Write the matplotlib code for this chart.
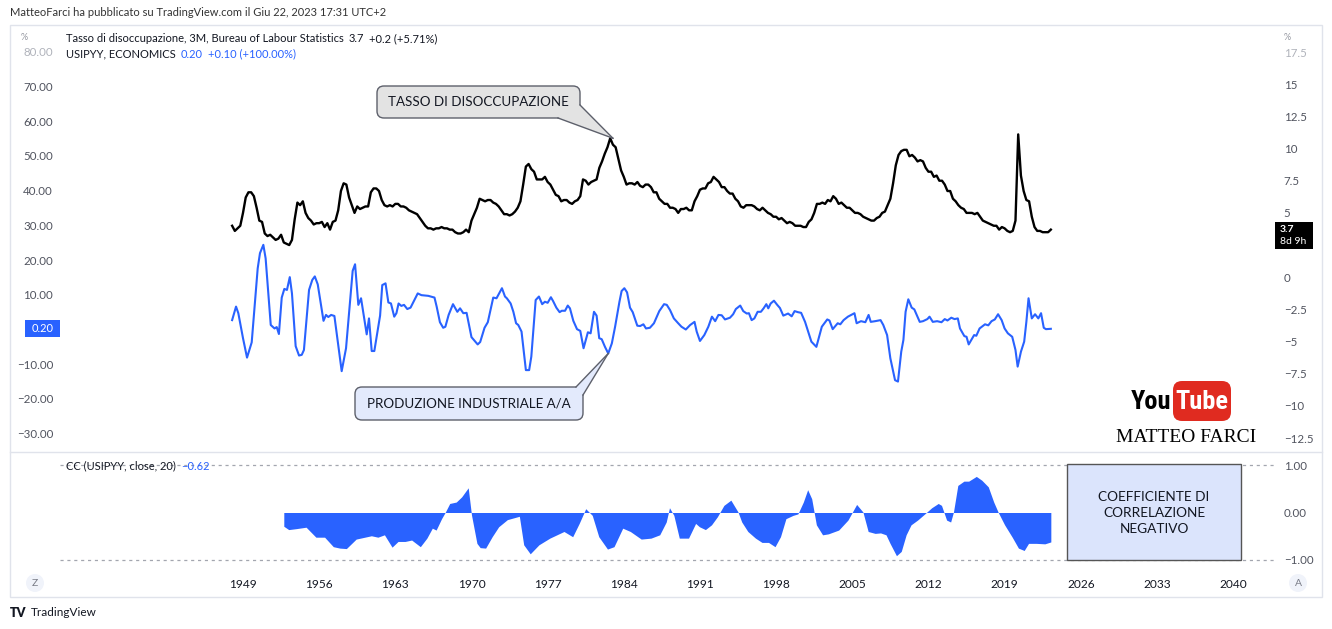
import numpy as np
import matplotlib
matplotlib.use('Agg')
import matplotlib.pyplot as plt
from matplotlib.patches import FancyBboxPatch, Polygon, Rectangle, Circle
from matplotlib.lines import Line2D
from matplotlib.transforms import IdentityTransform

plt.rcParams['font.family'] = ['Lato', 'DejaVu Sans']

W, H = 1332, 629

# --- dati -------------------------------------------------------------------
# tasso di disoccupazione USA, chiusure trimestrali (3M) dal 1948 Q1
unrate_start = 1948.0
unrate = [
    4.0, 3.6, 3.8, 4.0, 5.0, 6.2, 6.6, 6.6, 6.3, 5.4, 4.4, 4.3,
    3.4, 3.2, 3.3, 3.1, 2.9, 3.0, 3.3, 2.7, 2.6, 2.5, 2.9, 4.5,
    5.8, 5.6, 5.9, 5.0, 4.6, 4.4, 4.1, 4.2, 4.2, 4.3, 3.9, 4.2,
    3.7, 4.3, 4.4, 5.2, 6.7, 7.3, 7.2, 6.2, 5.6, 5.0, 5.5, 5.3,
    5.4, 5.5, 5.5, 6.6, 6.9, 6.9, 6.7, 6.0, 5.6, 5.5, 5.6, 5.5,
    5.7, 5.7, 5.5, 5.5, 5.4, 5.2, 5.1, 5.0, 4.9, 4.6, 4.3, 4.0,
    3.8, 3.8, 3.7, 3.8, 3.8, 3.9, 3.8, 3.8, 3.7, 3.7, 3.5, 3.4,
    3.4, 3.5, 3.7, 3.5, 4.4, 4.9, 5.4, 6.1, 6.0, 5.9, 6.0, 6.0,
    5.8, 5.7, 5.5, 5.2, 4.9, 4.9, 4.8, 4.9, 5.1, 5.4, 5.9, 7.2,
    8.6, 8.8, 8.4, 8.2, 7.6, 7.6, 7.6, 7.8, 7.4, 7.2, 6.8, 6.4,
    6.3, 5.9, 6.0, 6.0, 5.8, 5.7, 5.9, 6.0, 6.3, 7.6, 7.5, 7.2,
    7.4, 7.5, 7.6, 8.5, 9.0, 9.6, 10.1, 10.8, 10.3, 10.1, 9.2, 8.3,
    7.8, 7.2, 7.3, 7.3, 7.2, 7.4, 7.1, 7.0, 7.2, 7.2, 7.0, 6.6,
    6.6, 6.1, 5.9, 5.7, 5.7, 5.4, 5.4, 5.3, 5.0, 5.3, 5.3, 5.4,
    5.2, 5.2, 5.9, 6.3, 6.8, 6.9, 6.9, 7.3, 7.4, 7.8, 7.6, 7.4,
    7.0, 7.0, 6.7, 6.5, 6.5, 6.1, 5.9, 5.5, 5.4, 5.6, 5.6, 5.6,
    5.5, 5.3, 5.2, 5.4, 5.2, 5.0, 4.9, 4.7, 4.7, 4.5, 4.6, 4.4,
    4.2, 4.3, 4.2, 4.0, 4.0, 4.0, 3.9, 3.9, 4.3, 4.5, 5.0, 5.7,
    5.7, 5.8, 5.7, 6.0, 5.9, 6.3, 6.1, 5.7, 5.8, 5.6, 5.4, 5.4,
    5.2, 5.0, 5.0, 4.9, 4.7, 4.6, 4.5, 4.4, 4.4, 4.6, 4.7, 5.0,
    5.1, 5.6, 6.1, 7.3, 8.7, 9.5, 9.8, 9.9, 9.9, 9.4, 9.5, 9.3,
    9.0, 9.1, 9.0, 8.5, 8.2, 8.2, 7.8, 7.9, 7.5, 7.5, 7.2, 6.7,
    6.7, 6.1, 5.9, 5.6, 5.4, 5.3, 5.0, 5.0, 5.0, 4.9, 5.0, 4.7,
    4.4, 4.3, 4.2, 4.1, 4.0, 4.0, 3.7, 3.9, 3.8, 3.6, 3.5, 3.6,
    4.4, 11.1, 7.9, 6.7, 6.0, 5.9, 4.7, 3.9, 3.6, 3.6, 3.5, 3.5,
    3.5, 3.7,
]

# produzione industriale a/a (USIPYY)
ip_years = [
    1948.0, 1948.36, 1948.57, 1949.0, 1949.37, 1949.8, 1950.35, 1950.56, 1950.87, 1951.08,
    1951.55, 1951.9, 1952.1, 1952.3, 1952.56, 1952.8, 1953.04, 1953.3, 1953.5, 1953.84,
    1954.15, 1954.4, 1954.6, 1955.07, 1955.37, 1955.6, 1955.87, 1956.4, 1956.63, 1956.84,
    1957.1, 1957.4, 1958.07, 1958.47, 1959.08, 1959.3, 1959.6, 1959.85, 1960.37, 1960.58,
    1960.83, 1961.07, 1961.6, 1961.8, 1962.1, 1962.36, 1962.6, 1962.9, 1963.1, 1963.3,
    1963.55, 1963.8, 1964.1, 1964.4, 1965.06, 1965.4, 1966.03, 1966.6, 1966.8, 1967.1,
    1967.4, 1967.6, 1967.9, 1968.3, 1968.7, 1968.95, 1969.25, 1969.55, 1970.0, 1970.57,
    1970.8, 1971.2, 1971.5, 1972.0, 1972.3, 1972.8, 1973.08, 1973.25, 1973.6, 1973.85,
    1974.1, 1974.3, 1974.6, 1975.0, 1975.3, 1975.5, 1975.9, 1976.2, 1976.5, 1976.75,
    1977.0, 1977.3, 1977.5, 1977.8, 1978.1, 1978.3, 1978.6, 1978.85, 1979.05, 1979.36,
    1979.7, 1980.0, 1980.3, 1980.7, 1980.95, 1981.26, 1981.5, 1981.74, 1981.97, 1982.27,
    1982.57, 1982.9, 1983.2, 1983.6, 1983.8, 1984.05, 1984.3, 1984.57, 1984.82, 1985.24,
    1985.5, 1985.8, 1986.04, 1986.4, 1986.77, 1987.26, 1987.7, 1987.95, 1988.25, 1988.6,
    1989.0, 1989.3, 1989.7, 1990.1, 1990.5, 1990.7, 1991.0, 1991.4, 1991.77, 1992.1,
    1992.4, 1992.7, 1993.0, 1993.3, 1993.76, 1994.05, 1994.3, 1994.7, 1994.98, 1995.3,
    1995.5, 1995.75, 1996.0, 1996.3, 1996.6, 1996.85, 1997.1, 1997.28, 1997.5, 1997.8,
    1998.1, 1998.35, 1998.66, 1999.1, 1999.43, 1999.7, 2000.0, 2000.3, 2000.66, 2000.8,
    2001.24, 2001.7, 2002.2, 2002.7, 2002.9, 2003.2, 2003.66, 2003.9, 2004.2, 2004.6,
    2005.2, 2005.4, 2005.8, 2006.2, 2006.5, 2006.7, 2007.1, 2007.6, 2007.85, 2008.2,
    2008.5, 2008.93, 2009.2, 2009.5, 2009.7, 2009.9, 2010.15, 2010.46, 2010.7, 2011.2,
    2011.5, 2011.9, 2012.1, 2012.4, 2012.8, 2013.2, 2013.5, 2013.75, 2014.1, 2014.4,
    2014.7, 2014.9, 2015.3, 2015.5, 2015.7, 2016.2, 2016.4, 2016.7, 2017.2, 2017.5,
    2017.8, 2018.1, 2018.4, 2018.73, 2019.0, 2019.3, 2019.7, 2020.0, 2020.2, 2020.5,
    2020.8, 2021.0, 2021.2, 2021.5, 2021.8, 2022.1, 2022.35, 2022.6, 2022.8, 2023.25,
]
ip_yoy = [
    2.7, 6.6, 4.7, -2.5, -8.1, -3.7, 17.6, 22.0, 24.4, 20.5,
    1.3, 0.3, 0.7, -1.3, 9.2, 11.7, 11.4, 15.1, 10.4, -4.8,
    -7.5, -7.3, -5.9, 11.4, 14.3, 15.3, 13.0, 2.5, 4.2, 3.6,
    4.2, 3.9, -12.0, -5.4, 16.9, 18.8, 7.1, 9.0, -1.4, 3.2,
    -6.2, -6.2, 4.0, 12.8, 13.3, 7.8, 7.5, 3.7, 4.7, 7.5,
    6.8, 7.1, 5.9, 6.3, 10.4, 9.9, 9.7, 9.2, 6.6, 2.1,
    0.5, 0.8, 4.2, 7.3, 5.1, 6.1, 4.7, 4.8, -2.2, -4.3,
    -3.6, 0.5, 2.1, 9.2, 9.0, 11.9, 9.5, 9.0, 7.5, 5.1,
    1.8, 1.3, -0.6, -11.7, -11.7, -7.8, 8.5, 9.5, 7.3, 8.0,
    7.7, 9.3, 8.2, 6.3, 5.0, 5.4, 5.4, 6.9, 6.1, 2.5,
    0.1, -0.4, -5.4, -0.8, -1.1, 5.1, 4.0, -2.5, -2.8, -5.0,
    -6.9, -4.0, 0.8, 8.0, 11.1, 11.9, 10.7, 6.3, 5.0, 1.1,
    1.0, 1.5, 0.3, 0.5, 1.8, 5.3, 7.3, 7.1, 5.6, 3.2,
    1.8, 0.8, 0.0, 1.3, 2.2, -0.6, -3.3, -1.6, 0.8, 3.7,
    2.4, 4.2, 4.1, 2.9, 3.4, 4.4, 5.9, 6.9, 5.3, 4.6,
    4.7, 2.7, 3.2, 5.1, 5.1, 6.1, 7.3, 6.1, 7.5, 8.3,
    7.1, 6.2, 4.0, 4.6, 3.8, 5.3, 5.0, 4.8, 2.2, 0.8,
    -3.5, -5.0, 0.8, 2.9, 2.6, 0.1, 1.8, 1.5, 2.7, 3.7,
    4.7, 1.8, 2.4, 2.1, 4.2, 2.2, 2.4, 2.7, 1.3, -1.6,
    -8.3, -14.6, -15.0, -6.4, -3.0, 5.1, 8.7, 6.3, 5.8, 2.2,
    2.4, 3.0, 3.7, 2.2, 2.4, 2.1, 3.0, 2.6, 3.4, 3.0,
    3.2, 0.3, -1.9, -2.1, -4.3, -1.6, -1.8, 0.3, 1.5, 1.2,
    2.4, 2.9, 4.4, 2.7, 0.3, -1.1, -2.1, -5.9, -10.7, -6.4,
    -3.5, 2.2, 9.0, 3.2, 4.4, 3.2, 4.7, 0.5, 0.1, 0.2,
]

# coefficiente di correlazione (20 periodi)
cc_years = [
    1952.75, 1953.2, 1953.9, 1954.8, 1955.7, 1956.5, 1957.3, 1957.9, 1958.5, 1959.4,
    1960.2, 1960.8, 1961.4, 1962.0, 1962.7, 1963.25, 1963.9, 1964.5, 1965.3, 1965.9,
    1966.4, 1966.75, 1967.25, 1967.6, 1968.0, 1968.6, 1969.1, 1969.7, 1970.0, 1970.5,
    1970.8, 1971.3, 1971.9, 1972.5, 1973.3, 1974.4, 1974.8, 1975.4, 1976.2, 1977.2,
    1978.5, 1979.3, 1979.9, 1980.5, 1981.1, 1981.7, 1982.5, 1983.1, 1983.9, 1984.6,
    1985.6, 1986.5, 1987.3, 1987.9, 1988.2, 1988.6, 1989.1, 1989.95, 1990.6, 1990.95,
    1991.5, 1992.06, 1992.6, 1993.2, 1993.84, 1994.5, 1994.84, 1995.4, 1996.1, 1996.7,
    1997.3, 1997.9, 1998.4, 1998.9, 1999.56, 2000.0, 2000.5, 2000.9, 2001.27, 2001.7,
    2002.27, 2002.8, 2003.75, 2004.6, 2005.4, 2005.98, 2006.46, 2007.1, 2007.6, 2008.1,
    2008.47, 2009.06, 2009.5, 2009.95, 2010.4, 2011.0, 2011.66, 2012.3, 2012.9, 2013.2,
    2013.67, 2014.04, 2014.3, 2014.7, 2015.26, 2015.7, 2016.4, 2016.9, 2017.5, 2018.0,
    2018.4, 2019.0, 2019.7, 2020.27, 2020.8, 2021.2, 2021.9, 2022.7, 2023.25,
]
cc_vals = [
    -0.29, -0.36, -0.34, -0.31, -0.52, -0.52, -0.72, -0.75, -0.76, -0.56,
    -0.52, -0.49, -0.52, -0.47, -0.73, -0.61, -0.61, -0.58, -0.72, -0.54,
    -0.33, -0.37, -0.13, 0.01, 0.19, 0.22, 0.33, 0.52, -0.05, -0.65,
    -0.74, -0.75, -0.51, -0.30, -0.15, -0.08, -0.68, -0.87, -0.68, -0.54,
    -0.40, -0.51, -0.23, 0.08, -0.06, -0.51, -0.77, -0.72, -0.33, -0.40,
    -0.56, -0.54, -0.47, -0.20, 0.10, -0.06, -0.54, -0.54, -0.23, -0.30,
    -0.36, -0.26, -0.09, 0.15, 0.26, 0.01, -0.20, -0.40, -0.54, -0.63,
    -0.63, -0.72, -0.51, -0.13, -0.06, -0.03, 0.22, 0.48, 0.29, -0.26,
    -0.47, -0.45, -0.37, -0.16, 0.17, 0.01, -0.40, -0.44, -0.43, -0.47,
    -0.65, -0.91, -0.82, -0.47, -0.26, -0.16, -0.03, 0.10, 0.19, 0.15,
    -0.16, -0.20, 0.01, 0.57, 0.66, 0.66, 0.76, 0.68, 0.54, 0.22,
    0.01, -0.26, -0.52, -0.75, -0.80, -0.65, -0.65, -0.66, -0.62,
]

left_ticks = [80, 70, 60, 50, 40, 30, 20, 10, -10, -20, -30]
right_ticks = [17.5, 15, 12.5, 10, 7.5, 5, 0, -2.5, -5, -7.5, -10, -12.5]
cc_ticks = [1.0, 0.0, -1.0]
year_ticks = [1949, 1956, 1963, 1970, 1977, 1984, 1991, 1998, 2005, 2012, 2019, 2026, 2033, 2040]

BLUE = '#2962ff'
TXT = '#131722'
AXT = '#50535e'
MINUS = '\u2212'
NARROW = ['DejaVu Sans Condensed', 'Roboto Condensed', 'Liberation Sans Narrow', 'Roboto']

# --- figura -------------------------------------------------------------------
fig = plt.figure(figsize=(W / 100, H / 100), dpi=100)
fig.patch.set_facecolor('white')
ID = IdentityTransform()


def rect(x0, y0, x1, y1):
    return [x0 / W, 1 - y1 / H, (x1 - x0) / W, (y1 - y0) / H]


def fnum(v, fmt):
    return format(v, fmt).replace('-', MINUS)


X0, X1 = 60, 1274
xlim = (1949 - (243 - X0) / 10.88, 1949 + (X1 - 243) / 10.88)

# pannello principale
ax = fig.add_axes(rect(X0, 25, X1, 452))
ax.set_xlim(*xlim)
ax.set_ylim(-35.3, 87.75)
axr = ax.twinx()
axr.set_ylim(-13.58, 19.6)

q_years = unrate_start + np.arange(len(unrate)) / 4.0
ax.plot(ip_years, ip_yoy, color=BLUE, lw=1.5, solid_joinstyle='round')
axr.plot(q_years, unrate, color='black', lw=1.7, solid_joinstyle='round')

ax.set_yticks(left_ticks)
ax.set_yticklabels([fnum(v, '.2f') for v in left_ticks])
ax.tick_params(axis='y', length=0, pad=5, labelsize=8.3, labelcolor=AXT)
ax.get_yticklabels()[0].set_color('#b0b3bb')
ax.set_xticks([])
axr.set_yticks(right_ticks)
axr.set_yticklabels([fnum(v, 'g') for v in right_ticks])
axr.tick_params(axis='y', length=0, pad=7, labelsize=8.3, labelcolor=AXT)
axr.get_yticklabels()[0].set_color('#b0b3bb')
for a in (ax, axr):
    for s in a.spines.values():
        s.set_visible(False)

# pannello correlazione
axc = fig.add_axes(rect(X0, 452, X1, 572))
axc.set_xlim(*xlim)
axc.set_ylim(-1.253, 1.274)
axc.fill_between(cc_years, cc_vals, 0, color=BLUE, lw=0)
for v in (1.0, -1.0):
    axc.axhline(v, color='#a3a6af', lw=0.9, dashes=(2.5, 3))
axc.yaxis.tick_right()
axc.set_yticks(cc_ticks)
axc.set_yticklabels([fnum(v, '.2f') for v in cc_ticks])
axc.tick_params(axis='y', length=0, pad=7, labelsize=8.3, labelcolor=AXT)
axc.set_xticks(year_ticks)
axc.set_xticklabels([str(y) for y in year_ticks])
axc.tick_params(axis='x', length=0, pad=5, labelsize=8.6, labelcolor=TXT)
axc.patch.set_alpha(0)
for s in axc.spines.values():
    s.set_visible(False)

# cornice
fig.add_artist(Rectangle((10, H - 597), 1312, 572, fill=False, ec='#e0e3eb', lw=1, transform=ID))
fig.add_artist(Line2D([10, 1322], [H - 452, H - 452], color='#e0e3eb', lw=1, transform=ID))

# testi in alto
fig.text(10 / W, 1 - 13 / H, 'MatteoFarci ha pubblicato su TradingView.com il Giu 22, 2023 17:31 UTC+2',
         fontsize=8, color='#333333', va='center')
fig.text(21 / W, 1 - 37 / H, '%', fontsize=6.5, color='#9598a1', va='center')
fig.text(1284 / W, 1 - 37 / H, '%', fontsize=6.5, color='#9598a1', va='center')

fig.canvas.draw()
rend = fig.canvas.get_renderer()


def segments(x, y, parts, size=8):
    for txt, col in parts:
        t = fig.text(x / W, 1 - y / H, txt, fontsize=size, color=col, va='center')
        bb = t.get_window_extent(rend)
        x = bb.x1 + 5


segments(66, 39, [('Tasso di disoccupazione, 3M, Bureau of Labour Statistics', TXT),
                  ('3.7', TXT), ('+0.2 (+5.71%)', TXT)])
segments(66, 54, [('USIPYY, ECONOMICS', TXT), ('0.20', BLUE), ('+0.10 (+100.00%)', BLUE)])
segments(66, 466, [('CC (USIPYY, close, 20)', TXT), (MINUS + '0.62', BLUE)])

# etichette di prezzo sugli assi
fig.add_artist(Rectangle((1275, H - 249), 38, 27, fc='black', ec='none', transform=ID))
fig.text(1280 / W, 1 - 229 / H, '3.7', fontsize=7.5, color='white', va='center', fontweight='bold')
fig.text(1280 / W, 1 - 242 / H, '8d 9h', fontsize=7.5, color='white', va='center')
fig.add_artist(Rectangle((25, H - 337), 35, 17, fc=BLUE, ec='none', transform=ID))
fig.text(42.5 / W, 1 - 328.5 / H, '0.20', fontsize=8, color='white', va='center', ha='center')

# pulsanti Z / A
for cx, lab in ((35, 'Z'), (1298, 'A')):
    fig.add_artist(Circle((cx, H - 583), 9, fc='#f0f3fa', ec='none', transform=ID))
    fig.text(cx / W, 1 - 583 / H, lab, fontsize=7.5, color='#787b86', ha='center', va='center')

# logo TradingView
fig.text(10 / W, 1 - 613 / H, 'TV', fontsize=9, fontweight='heavy', color=TXT, va='center')
fig.text(31 / W, 1 - 613 / H, 'TradingView', fontsize=8.5, color=TXT, va='center')


# richiami
def callout(x0, y0, x1, y1, base, tip, fc, text):
    box = FancyBboxPatch((x0, H - y1), x1 - x0, y1 - y0, boxstyle='round,pad=0,rounding_size=7',
                         fc=fc, ec='#5d606b', lw=1, transform=ID, zorder=5)
    fig.add_artist(box)
    pts = [(base[0][0], H - base[0][1]), (base[1][0], H - base[1][1]), tip]
    fig.add_artist(Polygon(pts, closed=True, fc=fc, ec='none', transform=ID, zorder=6))
    for p in pts[:2]:
        fig.add_artist(Line2D([p[0], tip[0]], [p[1], tip[1]], color='#5d606b', lw=1,
                              transform=ID, zorder=7))
    fig.text((x0 + x1) / 2 / W, 1 - (y0 + y1) / 2 / H, text, fontsize=9.6, color=TXT,
             ha='center', va='center', zorder=8)


tip1 = axr.transData.transform((1983.0, 10.8))
tip2 = ax.transData.transform((1982.57, -6.9))
callout(377, 86, 580, 118, [(558, 118), (580, 105)], tip1, '#e3e3e3', 'TASSO DI DISOCCUPAZIONE')
callout(355, 387, 583, 420, [(576, 387), (583, 395)], tip2, '#e3eafc', 'PRODUZIONE INDUSTRIALE A/A')

# riquadro coefficiente
fig.add_artist(Rectangle((1067, H - 560), 174, 96, fc='#dbe4fc', ec='#555555', lw=1, transform=ID))
fig.text(1154 / W, 1 - 513 / H, 'COEFFICIENTE DI\nCORRELAZIONE\nNEGATIVO', fontsize=9.8,
         color=TXT, ha='center', va='center', linespacing=1.4)

# logo YouTube
fig.add_artist(FancyBboxPatch((1173, H - 421), 58, 40, boxstyle='round,pad=0,rounding_size=9',
                              fc='#e02b20', ec='none', transform=ID))
fig.text(1151 / W, 1 - 402 / H, 'You', fontsize=19, fontweight='bold', color='black',
         ha='center', va='center', family=NARROW)
fig.text(1202 / W, 1 - 402 / H, 'Tube', fontsize=19, fontweight='bold', color='white',
         ha='center', va='center', family=NARROW)
fig.text(1186 / W, 1 - 438 / H, 'MATTEO FARCI', fontsize=14, color='black',
         ha='center', va='center', family=['Liberation Serif', 'DejaVu Serif'])

fig.savefig('out.png', dpi=100)
